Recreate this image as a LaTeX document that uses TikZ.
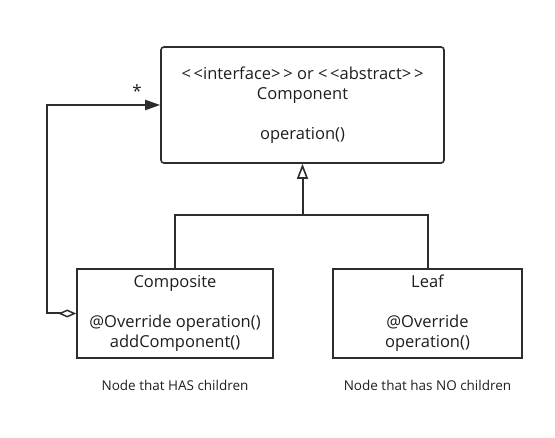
\documentclass[tikz,border=0pt]{standalone}
\usepackage{fontspec}
\setmainfont{Open Sans}
\usepackage{tikz}
\usetikzlibrary{arrows.meta, positioning, calc}
\definecolor{umlLine}{RGB}{45, 45, 45}
\definecolor{umlText}{RGB}{30, 30, 30}

\tikzset{
  classbox/.style={draw=umlLine, line width=1.6pt, fill=white, text=umlText, align=center, font=\fontsize{16.5}{20}\selectfont},
  note/.style={text=umlText, font=\fontsize{13.5}{16}\selectfont},
  link/.style={draw=umlLine, line width=2pt},
  inherit/.style={link, -{Triangle[open, length=15pt, width=11pt, line width=1.6pt]}},
  aggregate/.style={link, {Diamond[open, length=18pt, width=8pt, line width=1.5pt]}-{Triangle[length=15pt, width=10pt]}}
}

\begin{document}
\begin{tikzpicture}[x=1pt, y=-1pt]
                \useasboundingbox (0,0) rectangle (555,438);
                \node[classbox, rounded corners=3pt, minimum width=283pt, minimum height=116pt] (comp) at (302.5,105) {<\,<interface>\,> or <\,<abstract>\,>\\Component\\ \\operation()};
                \node[classbox, minimum width=196pt, minimum height=89pt] (composite) at (175,313.5) {Composite\\ \\@Override operation()\\addComponent()};
                \node[classbox, minimum width=189pt, minimum height=89pt] (leaf) at (427.5,313.5) {Leaf\\ \\@Override\\operation()};
                \node[note] (hasKids) at (175,385) {Node that HAS children};
                \node[note] (noKids) at (427.5,385) {Node that has NO children};
                \coordinate (split) at (302.5,215);
                \draw[link] (composite.north) |- (split) -| (leaf.north);
                \draw[inherit] (split) -- (comp.south);
                \draw[aggregate] (composite.west) -- ++(-29,0) |- (comp.west);
                \node[text=umlText, font=\fontsize{17}{17}\selectfont] (many) at (137,91) {*};
            \end{tikzpicture}
\end{document}
